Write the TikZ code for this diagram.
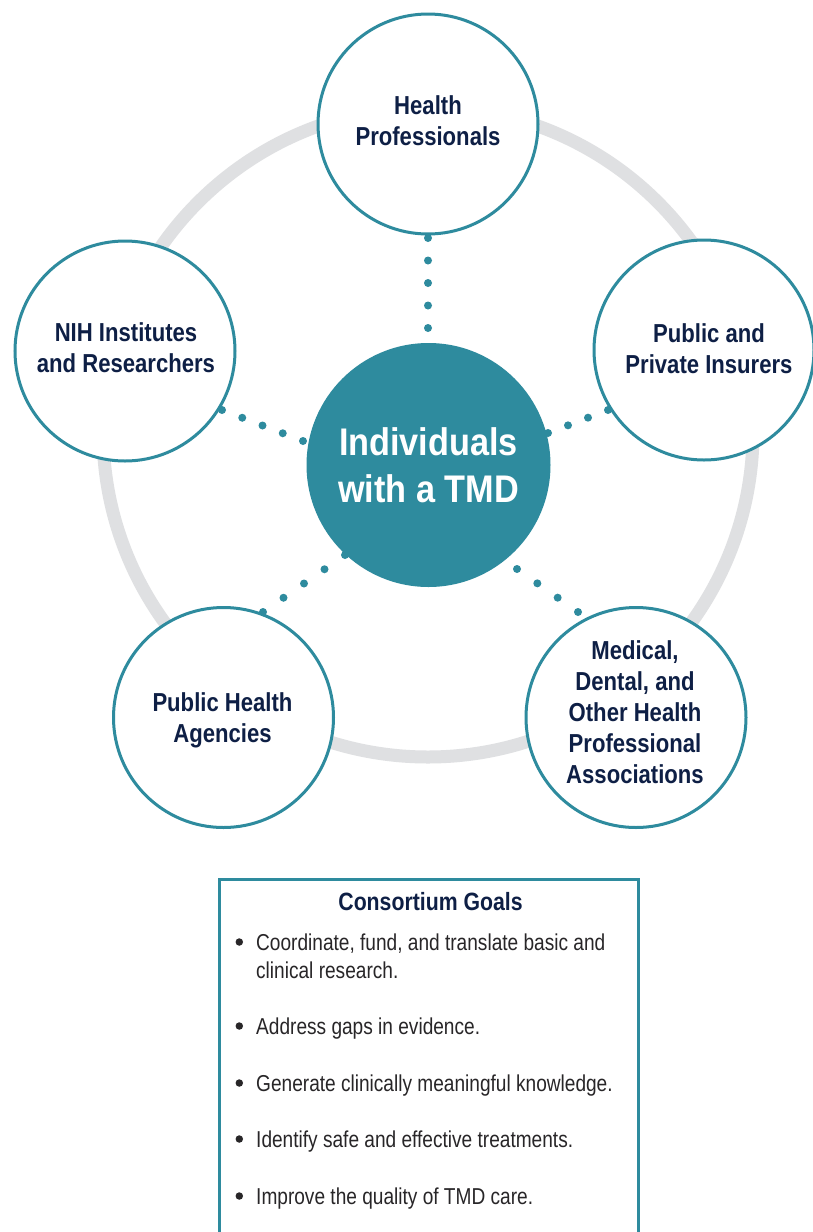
\documentclass[tikz,border=0pt]{standalone}
\usepackage{fontspec}
\usetikzlibrary{calc}
\setmainfont{Liberation Sans}
\newfontfamily\condb[FakeStretch=0.85]{Liberation Sans}
\newfontfamily\condc[FakeStretch=0.89]{Liberation Sans}
\newfontfamily\condl[FakeStretch=0.83]{Liberation Sans}
\definecolor{teal1}{RGB}{46,139,158}
\definecolor{navy}{RGB}{14,31,69}
\definecolor{ringgray}{RGB}{223,224,226}
\definecolor{bodytxt}{RGB}{40,38,40}
\begin{document}
\begin{tikzpicture}[x=1pt,y=-1pt,
  stake/.style={circle,draw=teal1,line width=3pt,fill=white,minimum size=220pt,inner sep=0pt},
  lab/.style={align=center,text=navy,font=\condb\bfseries\fontsize{26}{31}\selectfont,inner sep=0pt},
  bul/.style={circle,fill=bodytxt,minimum size=7.5pt,inner sep=0pt},
  item/.style={anchor=north west,inner sep=0pt,text=bodytxt,align=left,font=\condl\fontsize{23}{28}\selectfont},
  tdot/.style={fill=teal1}]
\useasboundingbox (0,0) rectangle (813,1232);
\clip (0,0) rectangle (813,1232);
\fill[white] (0,0) rectangle (813,1232);
% ring
\coordinate (rc) at (428,432);
\draw[ringgray,line width=13pt] (rc) circle[radius=325pt];
% stakeholder circles
\node[stake] (hp) at (428,124) {};
\node[stake] (nih) at (125,351) {};
\node[stake] (ins) at (704,350) {};
\node[stake] (pha) at (223.5,717.5) {};
\node[stake] (med) at (636,717.5) {};
\node[circle,fill=teal1,minimum size=244pt,inner sep=0pt] (ctr) at (428.5,465) {};
% labels
\node[lab] (hpt) at (428,120.5) {Health\\Professionals};
\node[lab] (niht) at (126,348) {NIH Institutes\\and Researchers};
\node[lab] (inst) at (709,348.5) {Public and\\Private Insurers};
\node[lab] (phat) at (222.5,720.5) {Public Health\\Agencies};
\node[lab] (medt) at (635,712) {Medical,\\Dental, and\\Other Health\\Professional\\Associations};
\node[align=center,text=white,font=\condc\bfseries\fontsize{38.5}{47}\selectfont,inner sep=0pt] (ctrt) at (428.5,465.5) {Individuals\\with a TMD};
% dotted connectors
\coordinate (d1a) at (428,238); \coordinate (d1b) at (428,328);
\coordinate (d2a) at (222,410); \coordinate (d2b) at (303,441);
\coordinate (d3a) at (608,410); \coordinate (d3b) at (548,433);
\coordinate (d4a) at (263,612); \coordinate (d4b) at (345,555);
\coordinate (d5a) at (578,612); \coordinate (d5b) at (517,569);
\foreach \t in {0,0.25,0.5,0.75,1} {
  \fill[tdot] ($(d1a)!\t!(d1b)$) circle[radius=4pt];
  \fill[tdot] ($(d2a)!\t!(d2b)$) circle[radius=4pt];
  \fill[tdot] ($(d4a)!\t!(d4b)$) circle[radius=4pt];
}
\foreach \t in {0,0.3333,0.6667,1} {
  \fill[tdot] ($(d3a)!\t!(d3b)$) circle[radius=4pt];
  \fill[tdot] ($(d5a)!\t!(d5b)$) circle[radius=4pt];
}
% goals box
\node[draw=teal1,line width=3pt,minimum width=418.5pt,minimum height=400pt,anchor=north,inner sep=0pt] (goals) at (429.2,877.5) {};
\node[anchor=base,text=navy,font=\condb\bfseries\fontsize{25}{30}\selectfont,inner sep=0pt] (gt) at (430.5,910) {Consortium Goals};
\node[bul] (b1) at (239.3,942) {};
\node[bul] (b2) at (239.3,1026) {};
\node[bul] (b3) at (239.3,1083) {};
\node[bul] (b4) at (239.3,1139) {};
\node[bul] (b5) at (239.3,1196) {};
\node[item] (g1) at (256,933.2) {Coordinate, fund, and translate basic and\\clinical research.};
\node[item,anchor=base west] (g2) at (256,1034) {Address gaps in evidence.};
\node[item,anchor=base west] (g3) at (256,1091) {Generate clinically meaningful knowledge.};
\node[item,anchor=base west] (g4) at (256,1147) {Identify safe and effective treatments.};
\node[item,anchor=base west] (g5) at (256,1204) {Improve the quality of TMD care.};
\end{tikzpicture}
\end{document}
